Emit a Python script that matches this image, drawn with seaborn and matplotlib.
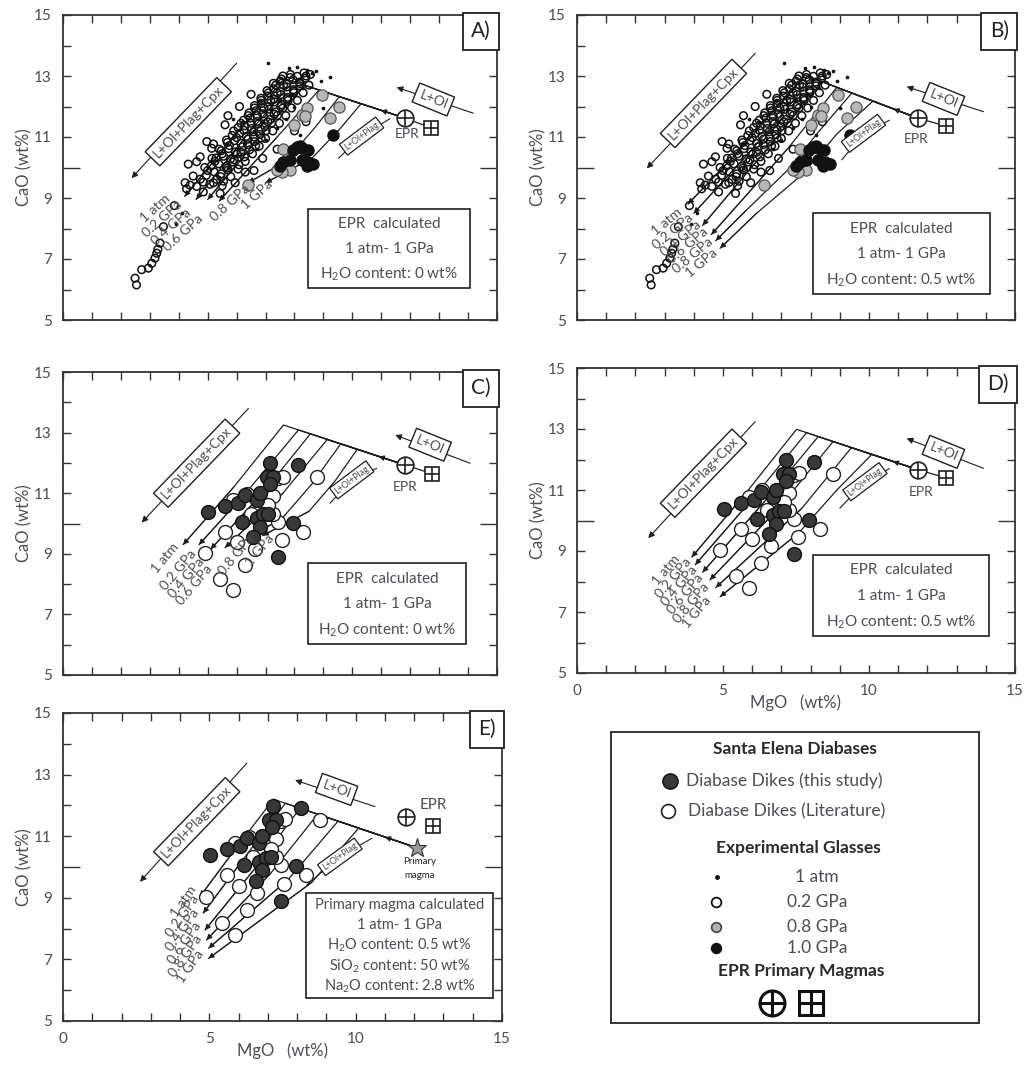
import numpy as np
import pandas as pd
import seaborn as sns
import matplotlib
matplotlib.use("Agg")
import matplotlib.pyplot as plt
from matplotlib.patches import Rectangle
from matplotlib.offsetbox import AnchoredText

# ---------------- DATA ----------------
PRESSURES = ["1 atm", "0.2 GPa", "0.4 GPa", "0.6 GPa", "0.8 GPa", "1 GPa"]

# Experimental glasses (panels A and B)
EXP_1ATM = [(7.1, 13.44), (5.89, 11.6), (9.0, 11.95), (8.2, 11.07), (9.23, 12.98), (8.6, 13.1),
            (8.75, 13.15), (8.45, 13.2), (8.9, 12.85), (8.3, 12.6), (7.9, 12.4), (7.5, 12.2),
            (7.2, 11.9), (6.9, 11.5), (6.6, 11.2), (6.3, 10.8), (6.0, 10.4), (5.7, 10.0),
            (5.4, 9.7), (7.7, 11.6), (7.4, 11.3), (7.0, 10.9), (6.7, 10.6), (8.0, 12.0),
            (6.2, 11.5), (6.8, 12.2), (5.1, 10.2), (4.1, 8.5), (3.9, 8.15), (8.1, 13.3), (7.8, 13.25)]
EXP_02GPA = [(4.62, 9.38), (4.85, 9.52), (5.08, 9.45), (5.31, 9.61), (5.55, 9.55), (4.95, 9.74),
             (5.22, 9.86), (5.47, 9.79), (5.71, 9.92), (5.12, 10.05), (5.38, 10.12), (5.63, 10.03),
             (5.87, 10.18), (6.08, 10.09), (5.29, 10.31), (5.55, 10.37), (5.79, 10.28), (6.02, 10.44),
             (6.27, 10.35), (5.47, 10.55), (5.72, 10.62), (5.96, 10.51), (6.2, 10.68), (6.45, 10.58),
             (6.66, 10.71), (5.68, 10.82), (5.93, 10.88), (6.15, 10.79), (6.39, 10.93), (6.62, 10.85),
             (6.85, 10.97), (5.85, 11.05), (6.11, 11.12), (6.34, 11.02), (6.58, 11.17), (6.81, 11.08),
             (7.02, 11.21), (6.05, 11.31), (6.28, 11.37), (6.52, 11.28), (6.75, 11.43), (6.98, 11.34),
             (7.21, 11.46), (6.24, 11.55), (6.47, 11.62), (6.71, 11.51), (6.94, 11.67), (7.17, 11.58),
             (7.41, 11.71), (6.43, 11.79), (6.67, 11.86), (6.9, 11.76), (7.13, 11.91), (7.36, 11.82),
             (7.6, 11.95), (6.62, 12.03), (6.86, 12.1), (7.09, 12.0), (7.32, 12.15), (7.55, 12.06),
             (7.78, 12.2), (6.84, 12.27), (7.07, 12.34), (7.3, 12.24), (7.53, 12.39), (7.76, 12.3),
             (7.98, 12.45), (7.05, 12.52), (7.28, 12.58), (7.51, 12.49), (7.74, 12.64), (7.96, 12.55),
             (8.18, 12.68), (7.27, 12.76), (7.5, 12.83), (7.73, 12.74), (7.95, 12.88), (8.17, 12.8),
             (8.38, 12.93), (7.6, 13.0), (7.86, 13.05), (8.1, 12.99), (8.33, 13.1), (8.55, 13.05),
             (4.75, 9.62), (5.0, 9.9), (5.25, 10.2), (5.5, 10.45), (5.75, 10.72), (6.0, 10.98),
             (6.25, 11.22), (6.5, 11.45), (6.72, 11.7), (6.95, 11.95), (7.18, 12.2), (7.4, 12.45),
             (7.62, 12.7), (7.85, 12.95), (5.2, 9.5), (5.45, 9.7), (5.68, 9.98), (5.92, 10.25),
             (6.15, 10.5), (6.38, 10.75), (6.6, 11.0), (6.85, 11.25), (7.08, 11.5), (7.3, 11.75),
             (7.52, 12.0), (7.75, 12.25), (7.98, 12.5), (8.2, 12.75), (8.4, 13.0), (5.5, 9.4),
             (5.8, 9.7), (6.05, 9.95), (6.3, 10.2), (6.55, 10.45), (6.78, 10.7), (7.0, 10.95),
             (7.25, 11.2), (7.48, 11.45), (7.7, 11.7), (7.9, 11.95), (8.1, 12.2), (8.3, 12.45),
             (8.5, 12.7), (4.9, 10.0), (5.15, 10.3), (5.4, 10.6), (5.65, 10.9), (5.9, 11.2),
             (6.15, 11.45), (6.4, 11.7), (6.62, 11.95), (6.85, 12.2), (7.1, 12.45), (7.35, 12.7),
             (7.55, 12.9),
             (4.97, 10.85), (5.2, 10.77), (5.14, 10.63), (4.74, 10.35), (4.62, 10.19), (4.33, 10.11),
             (4.5, 9.72), (4.22, 9.5), (4.39, 9.42), (4.85, 9.2), (5.43, 9.15), (5.95, 9.5),
             (6.3, 9.85), (5.6, 11.4), (5.7, 11.7), (6.1, 12.0), (6.5, 12.4), (8.4, 11.5),
             (8.0, 11.2), (7.4, 10.6), (6.9, 10.3), (6.6, 9.9),
             (2.49, 6.37), (2.54, 6.15), (2.72, 6.65), (2.95, 6.7), (3.07, 6.86), (3.18, 7.03),
             (3.24, 7.19), (3.28, 7.32), (3.35, 7.52), (3.47, 8.06), (3.85, 8.75), (4.27, 9.3)]
EXP_08GPA = [(9.55, 11.97), (9.23, 11.61), (8.25, 11.72), (8.42, 11.95), (8.36, 11.7), (7.85, 9.92),
             (7.56, 9.85), (7.73, 10.25), (7.39, 9.92), (6.41, 9.44), (8.95, 12.38), (8.0, 11.4),
             (7.8, 10.45), (7.62, 10.62)]
EXP_10GPA = [(9.34, 11.07), (8.08, 10.68), (8.25, 10.63), (8.48, 10.19), (8.25, 10.25), (7.62, 10.19),
             (7.85, 10.25), (7.96, 10.59), (8.19, 10.7), (8.47, 10.59), (7.5, 10.04), (8.42, 10.04),
             (8.65, 10.1)]

# Santa Elena diabases (panels C, D, E)
SE_THIS_STUDY = [(7.16, 11.99), (8.13, 11.93), (5.02, 10.39), (5.6, 10.59), (6.06, 10.67), (6.29, 10.94),
                 (6.7, 10.78), (7.04, 11.54), (7.27, 11.54), (6.81, 11.0), (6.17, 10.06), (6.7, 10.17),
                 (6.92, 10.3), (6.81, 9.9), (6.58, 9.56), (7.96, 10.02), (7.44, 8.9), (7.1, 10.32),
                 (7.15, 11.3)]
SE_LITERATURE = [(7.44, 11.49), (8.77, 11.54), (5.89, 10.77), (6.35, 10.99), (7.27, 10.9), (7.44, 10.06),
                 (8.31, 9.73), (7.56, 9.45), (5.6, 9.73), (6.0, 9.39), (6.64, 9.17), (6.29, 8.62),
                 (5.43, 8.18), (4.9, 9.02), (5.89, 7.8), (7.27, 10.33), (6.5, 10.33), (7.6, 11.55),
                 (7.1, 10.6)]

# EPR primary magmas (circle-plus, square-plus) and calculated primary magma (panel E)
EPR_CIRCLE = {"A": (11.82, 11.62), "B": (11.69, 11.61), "C": (11.82, 11.93), "D": (11.69, 11.66), "E": (11.71, 11.63)}
EPR_SQUARE = {"A": (12.72, 11.3), "B": (12.63, 11.36), "C": (12.74, 11.65), "D": (12.63, 11.4), "E": (12.63, 11.33)}
PRIMARY_MAGMA = (12.1, 10.62)

# Calculated liquid lines of descent (kink on L+Ol line, then down-left), 1 atm ... 1 GPa
LLD_A = [[(7.55, 12.94), (5.9, 11.0), (4.2, 9.05)],
         [(7.95, 12.82), (6.3, 11.0), (4.6, 8.95)],
         [(8.35, 12.70), (6.8, 11.0), (5.0, 8.95)],
         [(8.85, 12.54), (7.4, 11.0), (5.4, 8.9)],
         [(9.55, 12.32), (8.7, 11.3), (7.7, 10.2), (6.4, 9.5)],
         [(10.3, 12.09), (9.6, 11.3), (8.6, 10.3), (7.0, 9.5)]]
LLD_B = [[(7.81, 13.03), (5.6, 10.6), (3.8, 8.8)],
         [(8.07, 12.93), (6.0, 10.6), (4.0, 8.5)],
         [(8.4, 12.81), (6.5, 10.6), (4.3, 8.1)],
         [(8.9, 12.63), (7.2, 10.6), (4.6, 7.8)],
         [(9.41, 12.44), (8.3, 11.2), (7.2, 9.9), (5.8, 8.6), (4.75, 7.6)],
         [(10.14, 12.18), (8.9, 11.1), (7.75, 9.8), (6.15, 8.5), (4.9, 7.35)]]
LLD_C = [[(7.62, 13.25), (5.9, 11.2), (4.15, 9.3)],
         [(8.14, 13.09), (6.4, 11.1), (4.7, 9.3)],
         [(8.55, 12.96), (6.9, 11.0), (5.1, 9.15)],
         [(9.13, 12.77), (7.6, 11.0), (5.6, 9.2)],
         [(9.6, 12.63), (8.6, 11.3), (7.6, 10.2), (6.3, 9.45)],
         [(10.17, 12.45), (9.4, 11.4), (8.5, 10.4), (6.9, 9.6)]]
LLD_D = [[(7.52, 12.99), (5.7, 10.8), (3.93, 8.8)],
         [(7.86, 12.88), (6.0, 10.7), (4.05, 8.55)],
         [(8.26, 12.75), (6.4, 10.6), (4.3, 8.3)],
         [(8.77, 12.59), (7.0, 10.5), (4.55, 8.05)],
         [(9.4, 12.39), (7.7, 10.4), (4.75, 7.8)],
         [(10.1, 12.17), (8.9, 11.0), (7.6, 9.6), (4.9, 7.5)]]
LLD_E = [[(7.19, 12.2), (5.9, 10.6), (4.68, 9.04)],
         [(7.6, 12.07), (6.2, 10.3), (4.79, 8.5)],
         [(8.1, 11.91), (6.6, 10.0), (4.85, 7.95)],
         [(8.7, 11.71), (7.1, 9.8), (4.9, 7.63)],
         [(9.4, 11.49), (7.7, 9.6), (4.97, 7.36)],
         [(10.1, 11.26), (8.5, 9.5), (4.97, 7.03)]]

# ---------------- STYLE ----------------
sns.set_style("ticks")
plt.rcParams["font.family"] = ["Lato", "DejaVu Sans"]
plt.rcParams["mathtext.default"] = "regular"
TXT = "#4a4c58"
LINE = "#1e1e1e"
FRAME = "#333333"

fig = plt.figure(figsize=(10.29, 10.68), dpi=100)
W, H = 1029.0, 1068.0


def axes_px(l, t, r, b):
    return fig.add_axes([l / W, (H - b) / H, (r - l) / W, (b - t) / H])


axA = axes_px(63, 15, 497, 320)
axB = axes_px(577, 15, 1015, 320)
axC = axes_px(63, 372, 497, 675)
axD = axes_px(577, 368, 1015, 673)
axE = axes_px(63, 713, 502, 1021)
axL = axes_px(611, 732, 979, 1023)


def df_of(pts):
    return pd.DataFrame(pts, columns=["MgO", "CaO"])


def setup_axes(ax, letter, xlabels):
    ax.set_xlim(0, 15)
    ax.set_ylim(5, 15)
    ax.set_xticks([0, 5, 10, 15])
    ax.set_xticks(range(0, 16), minor=True)
    ax.set_yticks([5, 7, 9, 10, 11, 13, 15])
    ax.set_yticklabels(["5", "7", "9", "", "11", "13", "15"])
    ax.set_yticks(range(5, 16), minor=True)
    ax.tick_params(which="both", direction="in", top=True, right=True, length=6, width=1.0,
                   color=FRAME, labelsize=11, labelcolor=TXT, pad=8)
    ax.tick_params(axis="x", labelbottom=xlabels)
    for t in ax.yaxis.get_major_ticks():
        t.tick1line.set_markersize(6)
        t.tick2line.set_markersize(6)
    t10 = ax.yaxis.get_major_ticks()[3]
    t10.tick1line.set_markersize(12)
    t10.tick2line.set_markersize(12)
    for s in ax.spines.values():
        s.set_color(FRAME)
        s.set_linewidth(1.3)
    ax.set_ylabel("CaO (wt%)", fontsize=12, color=TXT, labelpad=1)
    if xlabels:
        ax.set_xlabel("MgO   (wt%)", fontsize=12, color=TXT, labelpad=-3)
    else:
        ax.set_xlabel("")
    at = AnchoredText(letter, loc="upper right", prop=dict(size=15, color="#222"),
                      pad=0.3, borderpad=0.0, frameon=True)
    at.patch.set_edgecolor(LINE)
    at.patch.set_linewidth(1.3)
    at.patch.set_boxstyle("square,pad=0.1")
    ax.add_artist(at)


def draw_lld(ax, start, curves, lw=0.9):
    for c in curves:
        pts = [start] + c
        sns.lineplot(data=df_of(pts), x="MgO", y="CaO", sort=False, estimator=None,
                     color=LINE, lw=lw, ax=ax, legend=False, zorder=3)
        ax.annotate("", xy=pts[-1], xytext=pts[-2],
                    arrowprops=dict(arrowstyle="-|>", color=LINE, lw=0.8, mutation_scale=8,
                                    shrinkA=0, shrinkB=0), zorder=3)
    k = curves[-1][0]
    mid = (start[0] + 0.45 * (k[0] - start[0]), start[1] + 0.45 * (k[1] - start[1]))
    mid2 = (start[0] + 0.55 * (k[0] - start[0]), start[1] + 0.55 * (k[1] - start[1]))
    ax.annotate("", xy=mid2, xytext=mid,
                arrowprops=dict(arrowstyle="-|>", color=LINE, lw=0.8, mutation_scale=8,
                                shrinkA=0, shrinkB=0), zorder=3)


def boxed_arrow(ax, text, tail, tip, center, rot, fs):
    ax.annotate("", xy=tip, xytext=tail,
                arrowprops=dict(arrowstyle="-|>", color=LINE, lw=0.8, mutation_scale=9,
                                shrinkA=0, shrinkB=0), zorder=4)
    ax.text(center[0], center[1], text, rotation=rot, rotation_mode="anchor", ha="center",
            va="center", fontsize=fs, color=TXT, zorder=6,
            bbox=dict(boxstyle="square,pad=0.3", fc="white", ec=LINE, lw=1.0))


def plag_label(ax, p0, center, p1, rot):
    sns.lineplot(data=df_of([p0, center, p1]), x="MgO", y="CaO", sort=False, estimator=None,
                 color=LINE, lw=0.8, ax=ax, legend=False, zorder=3)
    ax.text(center[0], center[1], "L+Ol+Plag", rotation=rot, rotation_mode="anchor", ha="center",
            va="center", fontsize=6.5, color=TXT, zorder=6,
            bbox=dict(boxstyle="square,pad=0.25", fc="white", ec=LINE, lw=0.9))


def epr_markers(ax, key, ms=12):
    cx, cy = EPR_CIRCLE[key]
    sx, sy = EPR_SQUARE[key]
    ax.plot([cx], [cy], marker="o", ms=ms, mfc="white", mec=LINE, mew=1.2, zorder=7)
    ax.plot([cx], [cy], marker="+", ms=ms, mec=LINE, mew=1.2, zorder=8)
    ax.plot([sx], [sy], marker="s", ms=ms - 2, mfc="white", mec=LINE, mew=1.2, zorder=7)
    ax.plot([sx], [sy], marker="+", ms=ms - 2, mec=LINE, mew=1.2, zorder=8)


def pressure_labels(ax, positions, rot, fs=10):
    for lab, (x, y) in zip(PRESSURES, positions):
        ax.text(x, y, lab, rotation=rot, rotation_mode="anchor", ha="center", va="center",
                fontsize=fs, color=TXT, zorder=6)


def info_box(ax, x0, y0, x1, y1, lines, fs=11):
    ax.add_patch(Rectangle((x0, y0), x1 - x0, y1 - y0, fc="white", ec=LINE, lw=1.2, zorder=5))
    n = len(lines)
    step = (y1 - y0) / (n + 0.15)
    for i, t in enumerate(lines):
        ax.text((x0 + x1) / 2, y1 - step * (i + 0.6), t, ha="center", va="center",
                fontsize=fs, color=TXT, zorder=6)


def exp_points(ax):
    sns.scatterplot(data=df_of(EXP_02GPA), x="MgO", y="CaO", s=30, facecolor="none",
                    edgecolor="#111", linewidth=1.1, ax=ax, zorder=4, legend=False)
    sns.scatterplot(data=df_of(EXP_1ATM), x="MgO", y="CaO", s=7, color="#111",
                    linewidth=0, ax=ax, zorder=4, legend=False)
    sns.scatterplot(data=df_of(EXP_08GPA), x="MgO", y="CaO", s=65, facecolor="#b8b8b8",
                    edgecolor="#555", linewidth=0.9, ax=ax, zorder=4, legend=False)
    sns.scatterplot(data=df_of(EXP_10GPA), x="MgO", y="CaO", s=65, facecolor="#111",
                    edgecolor="#111", linewidth=0.9, ax=ax, zorder=4, legend=False)


def se_points(ax):
    sns.scatterplot(data=df_of(SE_LITERATURE), x="MgO", y="CaO", s=100, facecolor="white",
                    edgecolor="#222", linewidth=1.0, ax=ax, zorder=4, legend=False)
    sns.scatterplot(data=df_of(SE_THIS_STUDY), x="MgO", y="CaO", s=100, facecolor="#383838",
                    edgecolor="#111", linewidth=1.0, ax=ax, zorder=4, legend=False)


# ---------------- PANEL A ----------------
ax = axA
draw_lld(ax, EPR_CIRCLE["A"], LLD_A)
exp_points(ax)
ax.plot([EPR_CIRCLE["A"][0], EPR_SQUARE["A"][0]], [EPR_CIRCLE["A"][1], EPR_SQUARE["A"][1]], color=LINE, lw=0.9)
epr_markers(ax, "A")
boxed_arrow(ax, "L+Ol+Plag+Cpx", (6.0, 13.42), (2.37, 9.65), (4.33, 11.5), 46, 10)
boxed_arrow(ax, "L+Ol", (14.18, 11.78), (11.53, 12.63), (12.8, 12.23), -22, 10)
plag_label(ax, (9.52, 10.3), (10.32, 11.03), (11.3, 11.6), 37)
ax.text(11.9, 11.1, "EPR", fontsize=10, color=TXT, ha="center", va="center", zorder=6)
pressure_labels(ax, [(3.18, 8.66), (3.43, 8.33), (3.75, 8.06), (4.16, 7.84), (5.77, 8.83), (6.7, 9.1)], 42)
info_box(ax, 8.48, 6.04, 14.07, 8.63, ["EPR  calculated", "1 atm- 1 GPa", "H$_2$O content: 0 wt%"])
setup_axes(ax, "A)", False)

# ---------------- PANEL B ----------------
ax = axB
draw_lld(ax, EPR_CIRCLE["B"], LLD_B)
exp_points(ax)
ax.plot([EPR_CIRCLE["B"][0], EPR_SQUARE["B"][0]], [EPR_CIRCLE["B"][1], EPR_SQUARE["B"][1]], color=LINE, lw=0.9)
epr_markers(ax, "B")
boxed_arrow(ax, "L+Ol+Plag+Cpx", (6.1, 13.74), (2.39, 9.97), (4.33, 12.1), 46, 10)
boxed_arrow(ax, "L+Ol", (13.92, 11.83), (11.29, 12.65), (12.55, 12.25), -22, 10)
plag_label(ax, (9.07, 10.25), (9.81, 11.12), (10.7, 11.55), 37)
ax.text(11.6, 10.95, "EPR", fontsize=10, color=TXT, ha="center", va="center", zorder=6)
pressure_labels(ax, [(3.07, 8.22), (3.3, 7.9), (3.55, 7.68), (3.81, 7.45), (3.95, 7.12), (4.27, 6.86)], 40)
info_box(ax, 8.09, 5.85, 14.14, 8.5, ["EPR  calculated", "1 atm- 1 GPa", "H$_2$O content: 0.5 wt%"])
setup_axes(ax, "B)", False)

# ---------------- PANEL C ----------------
ax = axC
draw_lld(ax, EPR_CIRCLE["C"], LLD_C)
se_points(ax)
ax.plot([EPR_CIRCLE["C"][0], EPR_SQUARE["C"][0]], [EPR_CIRCLE["C"][1], EPR_SQUARE["C"][1]], color=LINE, lw=0.9)
epr_markers(ax, "C")
boxed_arrow(ax, "L+Ol+Plag+Cpx", (6.41, 13.8), (2.72, 10.03), (4.62, 11.99), 46, 10)
boxed_arrow(ax, "L+Ol", (14.07, 11.99), (11.48, 12.92), (12.69, 12.6), -22, 10)
plag_label(ax, (9.23, 10.67), (9.98, 11.44), (10.84, 11.82), 37)
ax.text(11.82, 11.2, "EPR", fontsize=10, color=TXT, ha="center", va="center", zorder=6)
pressure_labels(ax, [(3.53, 8.85), (3.99, 8.47), (4.25, 8.2), (4.55, 7.97), (6.0, 8.96), (6.81, 9.13)], 50)
info_box(ax, 8.48, 6.02, 13.93, 8.69, ["EPR  calculated", "1 atm- 1 GPa", "H$_2$O content: 0 wt%"])
setup_axes(ax, "C)", False)

# ---------------- PANEL D ----------------
ax = axD
draw_lld(ax, EPR_CIRCLE["D"], LLD_D)
se_points(ax)
ax.plot([EPR_CIRCLE["D"][0], EPR_SQUARE["D"][0]], [EPR_CIRCLE["D"][1], EPR_SQUARE["D"][1]], color=LINE, lw=0.9)
epr_markers(ax, "D")
boxed_arrow(ax, "L+Ol+Plag+Cpx", (6.1, 13.24), (2.44, 9.42), (4.33, 11.55), 46, 10)
boxed_arrow(ax, "L+Ol", (13.92, 11.71), (11.29, 12.69), (12.55, 12.25), -22, 10)
plag_label(ax, (9.0, 10.4), (9.86, 11.27), (10.7, 11.7), 37)
ax.text(11.8, 10.94, "EPR", fontsize=10, color=TXT, ha="center", va="center", zorder=6)
pressure_labels(ax, [(3.07, 8.38), (3.3, 8.1), (3.5, 7.84), (3.7, 7.58), (3.9, 7.3), (4.1, 7.0)], 50)
info_box(ax, 8.09, 6.21, 14.12, 8.87, ["EPR  calculated", "1 atm- 1 GPa", "H$_2$O content: 0.5 wt%"])
setup_axes(ax, "D)", True)

# ---------------- PANEL E ----------------
ax = axE
draw_lld(ax, PRIMARY_MAGMA, LLD_E)
se_points(ax)
epr_markers(ax, "E")
ax.plot([PRIMARY_MAGMA[0]], [PRIMARY_MAGMA[1]], marker="*", ms=14, mfc="#9a9a9a", mec="#333", mew=0.8, zorder=8)
boxed_arrow(ax, "L+Ol+Plag+Cpx", (6.28, 13.37), (2.63, 9.52), (4.57, 11.47), 46, 10)
boxed_arrow(ax, "L+Ol", (10.66, 11.96), (7.93, 12.82), (9.35, 12.52), -20, 10)
plag_label(ax, (8.33, 9.42), (9.46, 10.33), (10.55, 10.93), 36)
ax.text(12.65, 12.0, "EPR", fontsize=11, color=TXT, ha="center", va="center", zorder=6)
ax.text(12.2, 9.95, "Primary\nmagma", fontsize=7, color="#222", ha="center", va="center",
        linespacing=1.6, zorder=6)
pressure_labels(ax, [(4.11, 8.87), (4.1, 8.42), (4.1, 7.97), (4.15, 7.52), (4.2, 7.1), (4.34, 6.76)], 55)
info_box(ax, 8.3, 5.76, 14.7, 9.17, ["Primary magma calculated", "1 atm- 1 GPa",
                                       "H$_2$O content: 0.5 wt%", "SiO$_2$ content: 50 wt%",
                                       "Na$_2$O content: 2.8 wt%"], fs=10.5)
setup_axes(ax, "E)", True)

# ---------------- LEGEND PANEL ----------------
ax = axL
ax.set_xlim(0, 1)
ax.set_ylim(0, 1)
ax.set_xticks([])
ax.set_yticks([])
for s in ax.spines.values():
    s.set_color(FRAME)
    s.set_linewidth(1.4)
ax.text(0.5, 0.943, "Santa Elena Diabases", ha="center", va="center", fontsize=12.5,
        fontweight="bold", color="#2a2a2a")
ax.plot([0.16], [0.832], marker="o", ms=11, mfc="#383838", mec="#111", mew=1.0)
ax.text(0.205, 0.832, "Diabase Dikes (this study)", ha="left", va="center", fontsize=12.5, color=TXT)
ax.plot([0.155], [0.7285], marker="o", ms=10, mfc="white", mec="#222", mew=1.2)
ax.text(0.21, 0.7285, "Diabase Dikes (Literature)", ha="left", va="center", fontsize=12.5, color=TXT)
ax.text(0.508, 0.601, "Experimental Glasses", ha="center", va="center", fontsize=12.5,
        fontweight="bold", color="#2a2a2a")
ax.plot([0.288], [0.502], marker="o", ms=2.5, mfc="#111", mec="#111")
ax.text(0.56, 0.502, "1 atm", ha="center", va="center", fontsize=12.5, color=TXT)
ax.plot([0.286], [0.416], marker="o", ms=7, mfc="white", mec="#111", mew=1.3)
ax.text(0.56, 0.416, "0.2 GPa", ha="center", va="center", fontsize=12.5, color=TXT)
ax.plot([0.286], [0.33], marker="o", ms=7, mfc="#b0b0b0", mec="#444", mew=1.2)
ax.text(0.56, 0.33, "0.8 GPa", ha="center", va="center", fontsize=12.5, color=TXT)
ax.plot([0.286], [0.258], marker="o", ms=7, mfc="#111", mec="#111", mew=1.2)
ax.text(0.56, 0.258, "1.0 GPa", ha="center", va="center", fontsize=12.5, color=TXT)
ax.text(0.516, 0.179, "EPR Primary Magmas", ha="center", va="center", fontsize=12.5,
        fontweight="bold", color="#2a2a2a")
ax.plot([0.437], [0.069], marker="o", ms=18, mfc="white", mec="#111", mew=2.2)
ax.plot([0.437], [0.069], marker="+", ms=18, mec="#111", mew=2.2)
ax.plot([0.543], [0.069], marker="s", ms=17, mfc="white", mec="#111", mew=2.2)
ax.plot([0.543], [0.069], marker="+", ms=17, mec="#111", mew=2.2)

fig.savefig("out.png", dpi=100)
